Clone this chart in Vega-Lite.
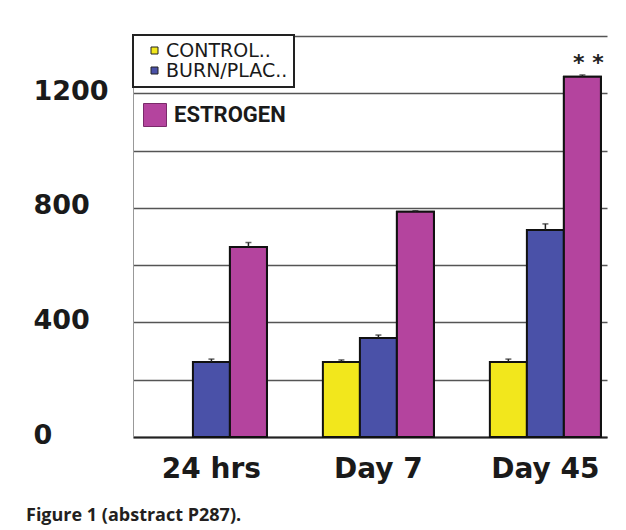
{
  "$schema": "https://vega.github.io/schema/vega-lite/v6.json",
  "autosize": {"type": "none"},
  "width": 474,
  "height": 401,
  "padding": {"left": 133, "top": 36, "right": 19, "bottom": 93},
  "background": "white",
  "config": {"view": {"stroke": null}},
  "title": {
    "text": "Figure 1 (abstract P287).",
    "orient": "bottom",
    "anchor": "start",
    "frame": "bounds",
    "font": "Open Sans",
    "fontSize": 18,
    "fontWeight": "bold",
    "color": "#231f20",
    "baseline": "alphabetic",
    "offset": 38,
    "dx": -7
  },
  "data": {
    "values": [
      {"time": "24 hrs", "group": "BURN/PLAC..", "value": 262, "hi": 272, "sig": ""},
      {"time": "24 hrs", "group": "ESTROGEN", "value": 663, "hi": 679, "sig": ""},
      {"time": "Day 7", "group": "CONTROL..", "value": 262, "hi": 269, "sig": ""},
      {"time": "Day 7", "group": "BURN/PLAC..", "value": 346, "hi": 356, "sig": ""},
      {"time": "Day 7", "group": "ESTROGEN", "value": 786, "hi": 790, "sig": ""},
      {"time": "Day 45", "group": "CONTROL..", "value": 262, "hi": 272, "sig": ""},
      {"time": "Day 45", "group": "BURN/PLAC..", "value": 723, "hi": 744, "sig": ""},
      {"time": "Day 45", "group": "ESTROGEN", "value": 1258, "hi": 1264, "sig": "* *"}
    ]
  },
  "encoding": {
    "x": {
      "field": "time",
      "type": "nominal",
      "sort": ["24 hrs", "Day 7", "Day 45"],
      "scale": {"paddingInner": 0.335, "paddingOuter": 0.0868, "align": 0.79},
      "axis": {
        "title": null,
        "labelAngle": 0,
        "ticks": false,
        "domainColor": "#222222",
        "domainWidth": 2,
        "labelFont": "DejaVu Sans",
        "labelFontWeight": "bold",
        "labelFontSize": 28,
        "labelColor": "#1a1a1a",
        "labelBaseline": "alphabetic",
        "labelPadding": 40
      }
    },
    "xOffset": {
      "field": "group",
      "type": "nominal",
      "scale": {"domain": ["CONTROL..", "BURN/PLAC..", "ESTROGEN"], "paddingInner": 0, "paddingOuter": 0}
    },
    "y": {
      "field": "value",
      "type": "quantitative",
      "scale": {"domain": [0, 1400], "nice": false},
      "axis": {
        "title": null,
        "values": [0, 200, 400, 600, 800, 1000, 1200, 1400],
        "labelExpr": "datum.value % 400 == 0 && datum.value < 1400 ? datum.label : ''",
        "format": "d",
        "ticks": false,
        "grid": true,
        "gridColor": "#555555",
        "gridOpacity": 1,
        "gridWidth": 1.5,
        "domainColor": "#999999",
        "domainWidth": 1,
        "labelAlign": "left",
        "labelBaseline": "middle",
        "labelPadding": 100,
        "labelOffset": -2,
        "labelFont": "DejaVu Sans",
        "labelFontWeight": "bold",
        "labelFontSize": 27,
        "labelColor": "#1a1a1a"
      }
    }
  },
  "layer": [
    {
      "mark": {"type": "bar", "stroke": "#111111", "strokeWidth": 2},
      "encoding": {
        "color": {
          "field": "group",
          "type": "nominal",
          "scale": {
            "domain": ["CONTROL..", "BURN/PLAC..", "ESTROGEN"],
            "range": ["#f2e71c", "#4a51a8", "#b4449e"]
          },
          "legend": {
            "values": ["CONTROL..", "BURN/PLAC.."],
            "title": null,
            "orient": "none",
            "legendX": 0,
            "legendY": -1,
            "direction": "vertical",
            "strokeColor": "#222222",
            "fillColor": "white",
            "padding": 6,
            "symbolType": "square",
            "symbolSize": 49,
            "symbolStrokeColor": "#222222",
            "symbolStrokeWidth": 1,
            "symbolOffset": 6,
            "labelOffset": 2,
            "rowPadding": 0,
            "labelFont": "DejaVu Sans",
            "labelFontSize": 19,
            "labelColor": "#1a1a1a",
            "labelLimit": 300,
            "encode": {"legend": {"update": {"strokeWidth": {"value": 2}}}}
          }
        }
      }
    },
    {
      "transform": [{"filter": "datum.group == 'ESTROGEN'"}],
      "mark": {"type": "bar", "stroke": "#111111", "strokeWidth": 2},
      "encoding": {
        "fill": {
          "field": "group",
          "type": "nominal",
          "scale": {"domain": ["ESTROGEN"], "range": ["#b4449e"]},
          "legend": {
            "title": null,
            "orient": "none",
            "legendX": 10,
            "legendY": 67,
            "padding": 0,
            "symbolType": "square",
            "symbolSize": 529,
            "symbolStrokeColor": "#7a2a6a",
            "symbolStrokeWidth": 1,
            "symbolOffset": 0,
            "labelOffset": 7,
            "labelFont": "Roboto",
            "labelFontWeight": "bold",
            "labelFontSize": 22,
            "labelColor": "#1a1a1a"
          }
        }
      }
    },
    {
      "mark": {"type": "rule", "color": "#222222", "strokeWidth": 1.5},
      "encoding": {"y2": {"field": "hi"}}
    },
    {
      "mark": {"type": "tick", "color": "#222222", "thickness": 1.5, "size": 6},
      "encoding": {"y": {"field": "hi", "type": "quantitative"}}
    },
    {
      "mark": {"type": "text", "font": "DejaVu Sans", "fontWeight": "bold", "fontSize": 22, "color": "#222222", "baseline": "middle", "dx": 6, "dy": -14},
      "encoding": {"text": {"field": "sig"}}
    }
  ]
}
